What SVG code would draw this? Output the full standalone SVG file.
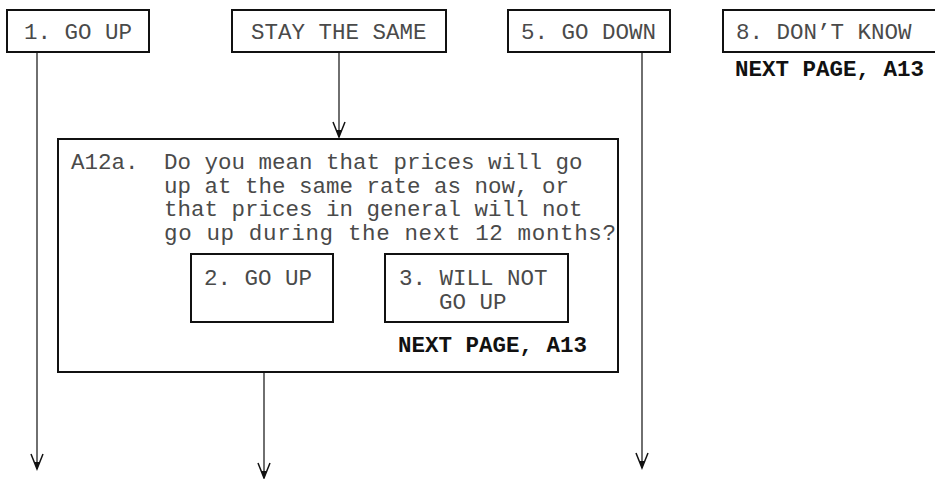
<svg xmlns="http://www.w3.org/2000/svg" width="935" height="479" viewBox="0 0 935 479">
<style>
.box{fill:#fff;stroke:#111;stroke-width:2}
.t{font-family:"Liberation Mono","Courier New",monospace;font-size:22.5px;fill:#4a4a4a}
.b{font-family:"Liberation Mono","Courier New",monospace;font-size:22.5px;font-weight:bold;fill:#111}
.c{fill:none;stroke:#222;stroke-width:1.3}
</style>
<defs>
<marker id="arr" markerUnits="userSpaceOnUse" viewBox="-17 -8 18 16" refX="0" refY="0" markerWidth="18" markerHeight="16" orient="auto" overflow="visible">
<path d="M-15,-6 L0,0 L-15,6" fill="none" stroke="#111" stroke-width="1.5"/>
<path d="M-7,-2.8 L0,0 L-7,2.8 Z" fill="#111"/>
</marker>
</defs>
<g id="connectors">
<line class="c" x1="37" y1="52" x2="37" y2="469" marker-end="url(#arr)"/>
<line class="c" x1="339" y1="52" x2="339" y2="137" marker-end="url(#arr)"/>
<line class="c" x1="642" y1="52" x2="642" y2="468" marker-end="url(#arr)"/>
<line class="c" x1="264" y1="322" x2="264" y2="478" marker-end="url(#arr)"/>
</g>
<g id="go-up-1">
<rect class="box" x="7" y="10" width="142" height="42"/>
<text class="t" x="24" y="39">1. GO UP</text>
</g>
<g id="stay-same">
<rect class="box" x="232" y="10" width="214" height="42"/>
<text class="t" x="251" y="39">STAY THE SAME</text>
</g>
<g id="go-down-5">
<rect class="box" x="508" y="10" width="162" height="42"/>
<text class="t" x="521" y="39">5. GO DOWN</text>
</g>
<g id="dont-know-8">
<rect class="box" x="723" y="10" width="230" height="42"/>
<text class="t" x="736" y="39">8. DON’T KNOW</text>
<text class="b" x="735" y="76">NEXT PAGE, A13</text>
</g>
<g id="a12a">
<rect class="box" x="58" y="139" width="560" height="233"/>
<text class="t" x="71" y="169">A12a.</text>
<text class="t" x="164" y="169">Do you mean that prices will go</text>
<text class="t" x="164" y="192.5">up at the same rate as now, or</text>
<text class="t" x="164" y="216">that prices in general will not</text>
<text class="t" x="164" y="240" textLength="452" lengthAdjust="spacing">go up during the next 12 months?</text>
<text class="b" x="398" y="352">NEXT PAGE, A13</text>
</g>
<g id="go-up-2">
<rect class="box" x="191" y="254" width="142" height="68"/>
<text class="t" x="204" y="285">2. GO UP</text>
</g>
<g id="will-not-3">
<rect class="box" x="385" y="254" width="183" height="68"/>
<text class="t" x="399" y="285">3. WILL NOT</text>
<text class="t" x="439" y="308.5">GO UP</text>
</g>
</svg>
